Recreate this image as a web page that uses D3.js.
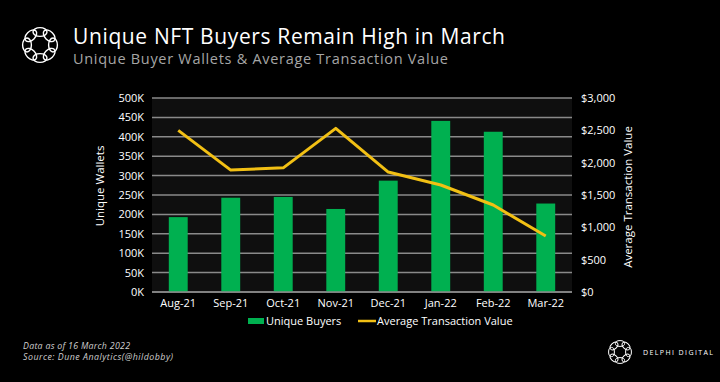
<!DOCTYPE html>
<html>
<head>
<meta charset="utf-8">
<script src="https://cdn.jsdelivr.net/npm/d3@7"></script>
<style>
  html, body { margin: 0; padding: 0; background: #000; }
  svg { display: block; }
  text { font-family: "Open Sans", "DejaVu Sans", sans-serif; }
</style>
</head>
<body>
<div id="chart"></div>
<script>
// data
var months = ["Aug-21", "Sep-21", "Oct-21", "Nov-21", "Dec-21", "Jan-22", "Feb-22", "Mar-22"];
var uniqueBuyers = [193000, 243000, 245000, 214000, 287000, 441000, 413000, 228000];
var avgTxValue = [2500, 1885, 1920, 2530, 1855, 1655, 1345, 865];
var leftTicks = [0, 50000, 100000, 150000, 200000, 250000, 300000, 350000, 400000, 450000, 500000];
var rightTicks = [0, 500, 1000, 1500, 2000, 2500, 3000];

var width = 720, height = 382;
var margin = { top: 98, right: 148, bottom: 90, left: 152 }; // plot box 152..572 x 98..292
var green = "#00b050", gold = "#f2c014";

var svg = d3.select("#chart").append("svg")
  .attr("width", width).attr("height", height)
  .style("background", "#000");

// delphi logo: ring of loops
function logo(g, cx, cy, R, rx, ry, sw) {
  var n = 8;
  for (var i = 0; i < n; i++) {
    var a = i * 360 / n;
    g.append("ellipse")
      .attr("cx", 0).attr("cy", -R)
      .attr("rx", rx).attr("ry", ry)
      .attr("transform", "translate(" + cx + "," + cy + ") rotate(" + a + ")")
      .attr("fill", "none").attr("stroke", "#fff").attr("stroke-width", sw);
  }
}
logo(svg.append("g"), 40, 45, 13, 7, 4.4, 1.4);

// titles (spread to the reference width, glyph height kept)
svg.append("text").attr("x", 73).attr("y", 44)
  .attr("fill", "#fff").attr("font-size", 21)
  .attr("textLength", 432).attr("lengthAdjust", "spacing")
  .text("Unique NFT Buyers Remain High in March");
svg.append("text").attr("x", 73).attr("y", 64)
  .attr("fill", "#a6a6a6").attr("font-size", 14.5)
  .attr("textLength", 375).attr("lengthAdjust", "spacing")
  .text("Unique Buyer Wallets & Average Transaction Value");

var x = d3.scaleBand().domain(months)
  .range([margin.left, width - margin.right]).paddingInner(0.64).paddingOuter(0.32);
var yL = d3.scaleLinear().domain([0, 500000]).range([height - margin.bottom, margin.top]);
var yR = d3.scaleLinear().domain([0, 3000]).range([height - margin.bottom, margin.top]);

// plot background
svg.append("rect")
  .attr("x", margin.left).attr("y", margin.top)
  .attr("width", width - margin.left - margin.right)
  .attr("height", height - margin.top - margin.bottom)
  .attr("fill", "#0f0f0f");

// gridlines
svg.append("g").selectAll("line").data(leftTicks).enter().append("line")
  .attr("x1", margin.left).attr("x2", width - margin.right)
  .attr("y1", function (d) { return yL(d); }).attr("y2", function (d) { return yL(d); })
  .attr("stroke", "#8a8a8a").attr("stroke-width", 1.5);

// bars
svg.append("g").selectAll("rect").data(uniqueBuyers).enter().append("rect")
  .attr("x", function (d, i) { return x(months[i]); })
  .attr("width", x.bandwidth())
  .attr("y", function (d) { return yL(d); })
  .attr("height", function (d) { return yL(0) - yL(d); })
  .attr("fill", green);

// baseline
svg.append("line")
  .attr("x1", margin.left).attr("x2", width - margin.right)
  .attr("y1", yL(0)).attr("y2", yL(0))
  .attr("stroke", "#8a8a8a").attr("stroke-width", 1.5);

// line
var line = d3.line()
  .x(function (d, i) { return x(months[i]) + x.bandwidth() / 2; })
  .y(function (d) { return yR(d); });
svg.append("path").datum(avgTxValue)
  .attr("d", line).attr("fill", "none")
  .attr("stroke", gold).attr("stroke-width", 3).attr("stroke-linejoin", "round");

// axes
var fmtK = function (d) { return (d / 1000) + "K"; };
var fmtD = d3.format("$,");
var leftAxis = svg.append("g")
  .attr("transform", "translate(" + (margin.left - 8) + ",0)")
  .call(d3.axisLeft(yL).tickValues(leftTicks).tickFormat(fmtK).tickSize(0));
var rightAxis = svg.append("g")
  .attr("transform", "translate(" + (width - margin.right + 9) + ",0)")
  .call(d3.axisRight(yR).tickValues(rightTicks).tickFormat(fmtD).tickSize(0));
var bottomAxis = svg.append("g")
  .attr("transform", "translate(0," + (height - margin.bottom + 4) + ")")
  .call(d3.axisBottom(x).tickSize(0));
[leftAxis, rightAxis, bottomAxis].forEach(function (a) {
  a.select(".domain").remove();
  a.selectAll("text").attr("fill", "#fff").attr("font-size", 11)
    .attr("font-family", "\"Open Sans\", sans-serif");
});
rightAxis.selectAll("text").attr("x", 0);
leftAxis.selectAll("text").attr("x", 0);

// axis titles
svg.append("text")
  .attr("transform", "translate(104,186) rotate(-90)")
  .attr("text-anchor", "middle").attr("fill", "#fff").attr("font-size", 11.5)
  .text("Unique Wallets");
svg.append("text")
  .attr("transform", "translate(632,197) rotate(-90)")
  .attr("text-anchor", "middle").attr("fill", "#fff").attr("font-size", 11.5)
  .text("Average Transaction Value");

// legend
var lg = svg.append("g").attr("transform", "translate(248,321)");
lg.append("rect").attr("x", 0).attr("y", -3).attr("width", 16).attr("height", 6).attr("fill", green);
lg.append("text").attr("x", 18).attr("y", 4).attr("fill", "#fff").attr("font-size", 11)
  .text("Unique Buyers");
lg.append("line").attr("x1", 110).attr("x2", 128).attr("y1", 0).attr("y2", 0)
  .attr("stroke", gold).attr("stroke-width", 2.5);
lg.append("text").attr("x", 129).attr("y", 4).attr("fill", "#fff").attr("font-size", 11)
  .text("Average Transaction Value");

// footnote
svg.append("text").attr("x", 23).attr("y", 349).attr("fill", "#cfcfcf")
  .attr("font-size", 8.8).attr("font-style", "italic")
  .attr("textLength", 107).attr("lengthAdjust", "spacing")
  .text("Data as of 16 March 2022");
svg.append("text").attr("x", 23).attr("y", 360).attr("fill", "#cfcfcf")
  .attr("font-size", 8.8).attr("font-style", "italic")
  .attr("textLength", 150).attr("lengthAdjust", "spacing")
  .text("Source: Dune Analytics(@hildobby)");

// bottom-right brand
logo(svg.append("g"), 620, 352, 8.5, 4.6, 2.9, 1);
svg.append("text").attr("x", 643).attr("y", 355).attr("fill", "#fff")
  .attr("font-size", 7).attr("letter-spacing", 1.4)
  .text("DELPHI DIGITAL");
</script>
</body>
</html>
